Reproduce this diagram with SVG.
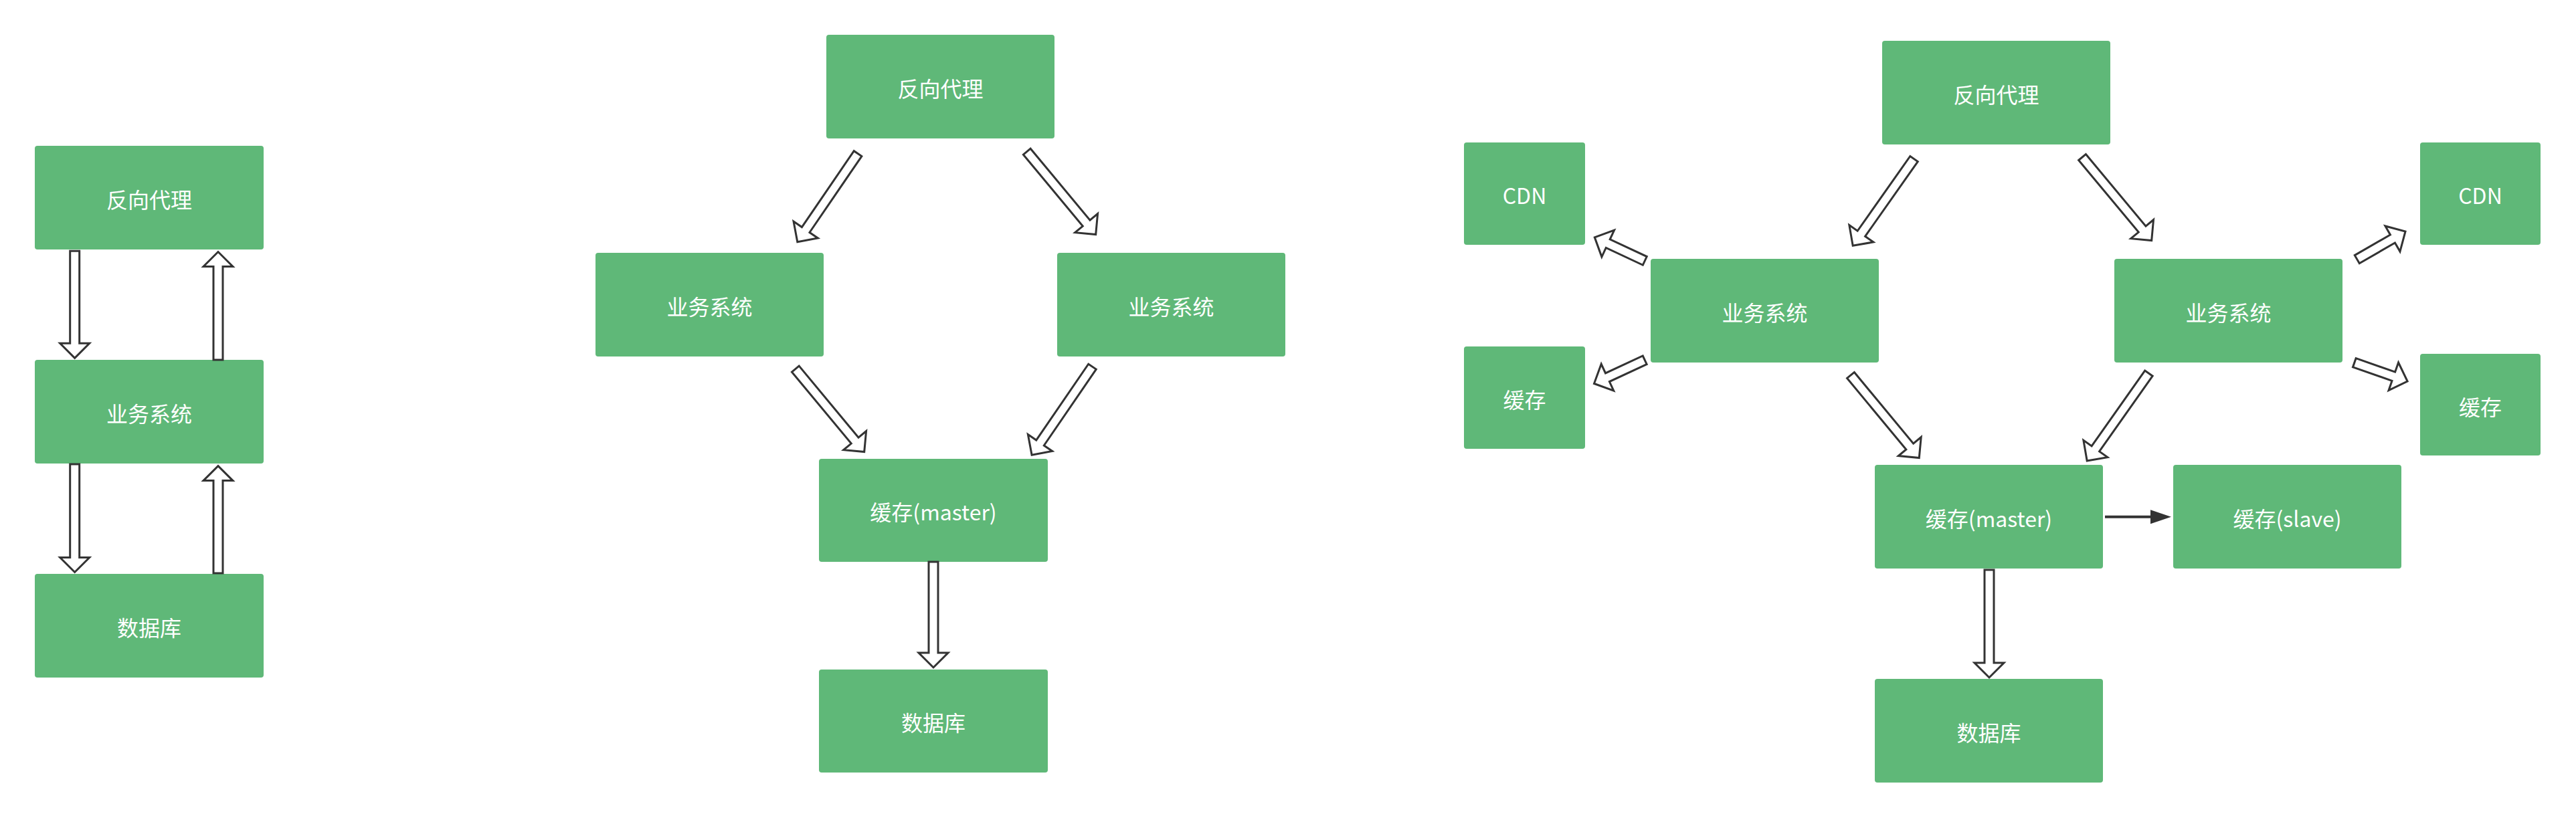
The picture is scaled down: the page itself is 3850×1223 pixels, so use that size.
<svg xmlns="http://www.w3.org/2000/svg" width="3850" height="1223" viewBox="0 0 3850 1223">
<style>
.box{fill:#5FB878;}
.lbl{fill:#ffffff;font-family:"Noto Sans CJK SC","Microsoft YaHei",sans-serif;font-size:32px;text-anchor:middle;}
.fat{fill:#ffffff;stroke:#333333;stroke-width:3;stroke-linejoin:miter;stroke-miterlimit:10;}
.thin{stroke:#333333;stroke-width:4;fill:none;}
.thinhead{fill:#333333;}
</style>
<rect width="3850" height="1223" fill="#ffffff"/>

<!-- Left diagram -->
<g id="l-proxy"><rect class="box" x="52" y="218" width="342" height="155" rx="4"/><text class="lbl" x="223" y="311">反向代理</text></g>
<g id="l-biz"><rect class="box" x="52" y="538" width="342" height="155" rx="4"/><text class="lbl" x="223" y="631">业务系统</text></g>
<g id="l-db"><rect class="box" x="52" y="858" width="342" height="155" rx="4"/><text class="lbl" x="223" y="951">数据库</text></g>

<!-- Middle diagram -->
<g id="m-proxy"><rect class="box" x="1235" y="52" width="341" height="155" rx="4"/><text class="lbl" x="1405.5" y="145">反向代理</text></g>
<g id="m-biz1"><rect class="box" x="890" y="378" width="341" height="155" rx="4"/><text class="lbl" x="1060.5" y="471">业务系统</text></g>
<g id="m-biz2"><rect class="box" x="1580" y="378" width="341" height="155" rx="4"/><text class="lbl" x="1750.5" y="471">业务系统</text></g>
<g id="m-master"><rect class="box" x="1224" y="686" width="342" height="154" rx="4"/><text class="lbl" x="1395" y="778">缓存(master)</text></g>
<g id="m-db"><rect class="box" x="1224" y="1001" width="342" height="154" rx="4"/><text class="lbl" x="1395" y="1093">数据库</text></g>

<!-- Right diagram -->
<g id="r-proxy"><rect class="box" x="2813" y="61" width="341" height="155" rx="4"/><text class="lbl" x="2983.5" y="154">反向代理</text></g>
<g id="r-cdn1"><rect class="box" x="2188" y="213" width="181" height="153" rx="4"/><text class="lbl" x="2278.5" y="305">CDN</text></g>
<g id="r-cache1"><rect class="box" x="2188" y="518" width="181" height="153" rx="4"/><text class="lbl" x="2278.5" y="610">缓存</text></g>
<g id="r-biz1"><rect class="box" x="2467" y="387" width="341" height="155" rx="4"/><text class="lbl" x="2637.5" y="480">业务系统</text></g>
<g id="r-biz2"><rect class="box" x="3160" y="387" width="341" height="155" rx="4"/><text class="lbl" x="3330.5" y="480">业务系统</text></g>
<g id="r-cdn2"><rect class="box" x="3617" y="213" width="180" height="153" rx="4"/><text class="lbl" x="3707" y="305">CDN</text></g>
<g id="r-cache2"><rect class="box" x="3617" y="529" width="180" height="152" rx="4"/><text class="lbl" x="3707" y="621">缓存</text></g>
<g id="r-master"><rect class="box" x="2802" y="695" width="341" height="155" rx="4"/><text class="lbl" x="2972.5" y="788">缓存(master)</text></g>
<g id="r-slave"><rect class="box" x="3248" y="695" width="341" height="155" rx="4"/><text class="lbl" x="3418.5" y="788">缓存(slave)</text></g>
<g id="r-db"><rect class="box" x="2802" y="1015" width="341" height="155" rx="4"/><text class="lbl" x="2972.5" y="1108">数据库</text></g>

<g id="connectors">
<!-- left -->
<polygon class="fat" transform="translate(111.7,535.3) rotate(90)" points="-160,-7 -22,-7 -22,-22 0,0 -22,22 -22,7 -160,7"/>
<polygon class="fat" transform="translate(326,376.5) rotate(-90)" points="-161.5,-7 -22,-7 -22,-22 0,0 -22,22 -22,7 -161.5,7"/>
<polygon class="fat" transform="translate(111.7,855.5) rotate(90)" points="-161.5,-7 -22,-7 -22,-22 0,0 -22,22 -22,7 -161.5,7"/>
<polygon class="fat" transform="translate(326,696.6) rotate(-90)" points="-160.4,-7 -22,-7 -22,-22 0,0 -22,22 -22,7 -160.4,7"/>
<!-- middle -->
<polygon class="fat" transform="translate(1191.8,361.7) rotate(124.35)" points="-160,-7 -22,-7 -22,-22 0,0 -22,22 -22,7 -160,7"/>
<polygon class="fat" transform="translate(1637.7,350.5) rotate(50.27)" points="-161,-7 -22,-7 -22,-22 0,0 -22,22 -22,7 -161,7"/>
<polygon class="fat" transform="translate(1291.7,675.5) rotate(50.3)" points="-161,-7 -22,-7 -22,-22 0,0 -22,22 -22,7 -161,7"/>
<polygon class="fat" transform="translate(1542.1,680.2) rotate(124.4)" points="-160,-7 -22,-7 -22,-22 0,0 -22,22 -22,7 -160,7"/>
<polygon class="fat" transform="translate(1395,998) rotate(90)" points="-158,-7 -22,-7 -22,-22 0,0 -22,22 -22,7 -158,7"/>
<!-- right -->
<polygon class="fat" transform="translate(2769.2,367.3) rotate(125.15)" points="-158.7,-7 -22,-7 -22,-22 0,0 -22,22 -22,7 -158.7,7"/>
<polygon class="fat" transform="translate(3215.7,359.5) rotate(50.2)" points="-162,-7 -22,-7 -22,-22 0,0 -22,22 -22,7 -162,7"/>
<polygon class="fat" transform="translate(2868.3,684.5) rotate(50.35)" points="-160.4,-7 -22,-7 -22,-22 0,0 -22,22 -22,7 -160.4,7"/>
<polygon class="fat" transform="translate(3119.2,688.9) rotate(125.2)" points="-160,-7 -22,-7 -22,-22 0,0 -22,22 -22,7 -160,7"/>
<polygon class="fat" transform="translate(2383.3,354.8) rotate(-154.9)" points="-82.8,-7 -22,-7 -22,-22 0,0 -22,22 -22,7 -82.8,7"/>
<polygon class="fat" transform="translate(2382.5,573.5) rotate(155.1)" points="-83.5,-7 -22,-7 -22,-22 0,0 -22,22 -22,7 -83.5,7"/>
<polygon class="fat" transform="translate(3595,346) rotate(-30)" points="-83.4,-7 -22,-7 -22,-22 0,0 -22,22 -22,7 -83.4,7"/>
<polygon class="fat" transform="translate(3598.1,570) rotate(19.25)" points="-84,-7 -22,-7 -22,-22 0,0 -22,22 -22,7 -84,7"/>
<polygon class="fat" transform="translate(2973,1013) rotate(90)" points="-161,-7 -22,-7 -22,-22 0,0 -22,22 -22,7 -161,7"/>
<line class="thin" x1="3146" y1="772.7" x2="3216" y2="772.7"/>
<polygon class="thinhead" points="3214,762.2 3245,772.7 3214,783.2"/>
</g>
</svg>
